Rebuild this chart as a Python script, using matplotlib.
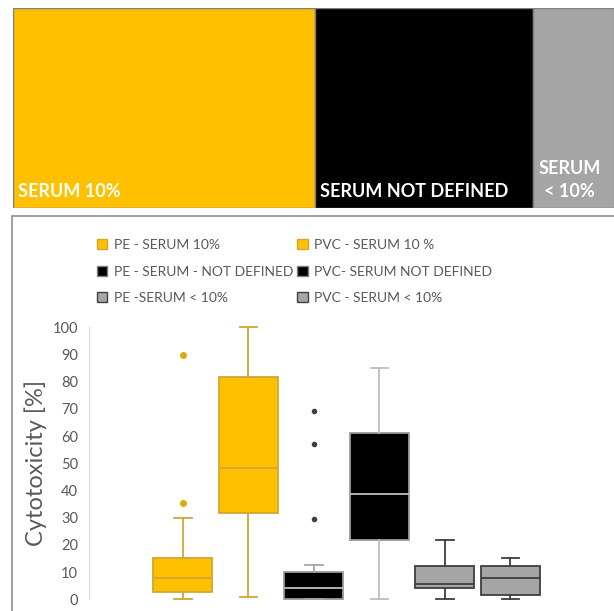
import matplotlib.pyplot as plt
from matplotlib.patches import Rectangle, Patch

# share of studies per serum condition (top strip)
serum_groups = ['SERUM 10%', 'SERUM NOT DEFINED', 'SERUM\n< 10%']
serum_share = [50.2, 36.3, 13.5]
serum_colors = ['#FFC000', '#000000', '#A5A5A5']

# box-plot summary per polymer / serum condition
series = ['PE - SERUM 10%', 'PVC - SERUM 10 %',
          'PE - SERUM - NOT DEFINED', 'PVC- SERUM NOT DEFINED',
          'PE -SERUM < 10%', 'PVC - SERUM < 10%']
whislo = [0.0, 0.7, 0.0, 0.0, 0.0, 0.0]
q1 = [2.8, 31.8, 0.0, 21.9, 4.0, 1.6]
med = [7.7, 48.3, 4.3, 38.6, 5.7, 7.8]
q3 = [15.1, 81.7, 10.0, 61.0, 12.2, 12.2]
whishi = [30.0, 100.0, 12.7, 85.0, 21.8, 15.2]
fliers = [[35.3, 89.8], [], [29.4, 57.1, 69.1], [], [], []]

face = ['#FFC000', '#FFC000', '#000000', '#000000', '#A5A5A5', '#A5A5A5']
edge = ['#D1A634', '#D1A634', '#9A9A9A', '#9A9A9A', '#3F3F3F', '#3F3F3F']
inner = ['#D1A634', '#D1A634', '#BFBFBF', '#BFBFBF', '#3F3F3F', '#3F3F3F']
whisk = ['#D1A634', '#D1A634', '#A6A6A6', '#BDBDBD', '#3F3F3F', '#3F3F3F']
dot = ['#E0A800', '#E0A800', '#404040', '#404040', '#404040', '#404040']
dot_size = [4, 4, 3, 3, 3, 3]

plt.rcParams['font.family'] = ['Lato', 'DejaVu Sans']

W, H = 614, 611
fig = plt.figure(figsize=(W / 100, H / 100), dpi=100)


def fx(px):
    return px / W


def fy(py):
    return 1 - py / H


# top strip, laid out left to right by share
top = fig.add_axes([fx(13), fy(208), fx(614) - fx(13), fy(8) - fy(208)])
top.set_xlim(0, sum(serum_share))
top.set_ylim(0, 1)
top.axis('off')
x0 = 0
for name, share, col in zip(serum_groups, serum_share, serum_colors):
    top.add_patch(Rectangle((x0, 0), share, 1, facecolor=col,
                            edgecolor='#7F7F7F', lw=1))
    if '\n' in name:
        top.text(x0 + share * 0.45, 0.04, name, color='white', fontsize=13,
                 fontweight='bold', ha='center', va='bottom', linespacing=1.45)
    else:
        top.text(x0 + 0.8, 0.04, name, color='white', fontsize=13,
                 fontweight='bold', ha='left', va='bottom')
    x0 += share

# frame of lower panel
fig.patches.append(Rectangle((fx(12), fy(640)), fx(700), fy(216) - fy(640),
                             transform=fig.transFigure, fill=False,
                             edgecolor='#8C8C8C', lw=1.2))

ax = fig.add_axes([fx(89.3), fy(599.3), fx(604) - fx(89.3), fy(327.3) - fy(599.3)])
stats = []
for i in range(len(series)):
    stats.append({'whislo': whislo[i], 'q1': q1[i], 'med': med[i], 'q3': q3[i],
                  'whishi': whishi[i], 'fliers': fliers[i], 'label': series[i]})

pos = list(range(1, len(series) + 1))
bp = ax.bxp(stats, positions=pos, widths=0.9, patch_artist=True,
            showfliers=True, manage_ticks=False)
for i in range(len(series)):
    bp['boxes'][i].set(facecolor=face[i], edgecolor=edge[i], lw=1.3, clip_on=False)
    bp['medians'][i].set(color=inner[i], lw=1.3, clip_on=False)
    for k in (2 * i, 2 * i + 1):
        bp['whiskers'][k].set(color=whisk[i], lw=1.3, clip_on=False)
        bp['caps'][k].set(color=whisk[i], lw=1.3, clip_on=False)
        bp['caps'][k].set_xdata([pos[i] - 0.135, pos[i] + 0.135])
    bp['fliers'][i].set(marker='o', markersize=dot_size[i], markerfacecolor=dot[i],
                        markeredgecolor=dot[i], clip_on=False)

ax.set_xlim(1 - 1.43, 6 + 1.43)
ax.set_ylim(0, 100)
ax.set_yticks(range(0, 101, 10))
ax.tick_params(axis='y', length=0, labelsize=10.5, labelcolor='#595959', pad=8)
ax.set_xticks([])
for s in ('top', 'right', 'bottom'):
    ax.spines[s].set_visible(False)
ax.spines['left'].set_color('#D9D9D9')
ax.set_ylabel('Cytotoxicity [%]', fontsize=17, color='#595959', labelpad=4)
ax.patch.set_alpha(0)

legend_edge = ['#D1A634', '#D1A634', '#7F7F7F', '#7F7F7F', '#3F3F3F', '#3F3F3F']
handles = [Patch(facecolor=face[i], edgecolor=legend_edge[i], label=series[i])
           for i in range(len(series))]
# column-major order so PE entries sit on the left
order = [0, 2, 4, 1, 3, 5]
fig.legend([handles[i] for i in order], [series[i] for i in order],
           ncol=2, loc='upper left', bbox_to_anchor=(fx(90), fy(232)),
           frameon=False, fontsize=10, labelcolor='#595959',
           handlelength=0.75, handleheight=0.75, handletextpad=0.45,
           columnspacing=0.3, labelspacing=1.05, borderpad=0)

fig.savefig('out.png', dpi=100)
